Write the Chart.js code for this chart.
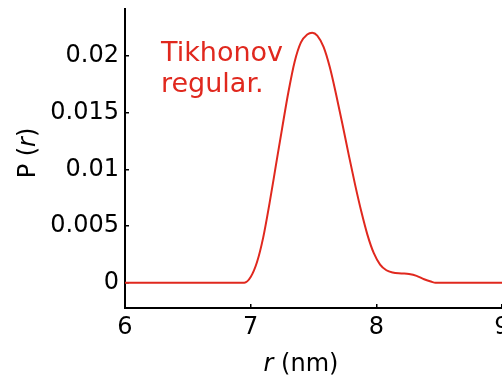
<!DOCTYPE html>
<html>
<head>
<meta charset="utf-8">
<script src="https://cdn.jsdelivr.net/npm/chart.js@4"></script>
<style>
	html, body { margin: 0; padding: 0; background: #fff; }
	#wrap { width: 502px; height: 382px; }
</style>
</head>
<body>
<div id="wrap"><canvas id="prChart" width="502" height="382"></canvas></div>
<script>
// distance distribution P(r), Tikhonov regularisation
const rValues = [6.0, 6.5, 6.95, 7.0, 7.05, 7.10, 7.15, 7.20, 7.25, 7.30, 7.35, 7.40, 7.45, 7.49, 7.53, 7.58, 7.63, 7.68, 7.73, 7.78, 7.83, 7.88, 7.93, 7.98, 8.03, 8.08, 8.13, 8.20, 8.26, 8.32, 8.38, 8.44, 8.47, 8.7, 9.0];
const pValues = [0, 0, 0, 0.0005, 0.0018, 0.0040, 0.0070, 0.0103, 0.0136, 0.0168, 0.0195, 0.0212, 0.0219, 0.02206, 0.0218, 0.0208, 0.0190, 0.0166, 0.0140, 0.0113, 0.0087, 0.0063, 0.0042, 0.0026, 0.0016, 0.0011, 0.0009, 0.00082, 0.00076, 0.0006, 0.0003, 0.00008, 0, 0, 0];

const xTicks = [6, 7, 8, 9];
const yTicks = [0, 0.005, 0.01, 0.015, 0.02];
const yTickLabels = ["0", "0.005", "0.01", "0.015", "0.02"];

const RED = "#e0281e";
const FONT = "DejaVu Sans";

// text with an italic r in it
function drawParts(ctx, parts, cx, cy) {
	let total = 0;
	parts.forEach(p => {
		ctx.font = (p.italic ? "italic " : "") + "24px '" + FONT + "'";
		p.w = ctx.measureText(p.text).width;
		total += p.w;
	});
	let x = cx - total / 2;
	parts.forEach(p => {
		ctx.font = (p.italic ? "italic " : "") + "24px '" + FONT + "'";
		ctx.fillText(p.text, x, cy);
		x += p.w;
	});
}

const textPlugin = {
	id: "textPlugin",
	afterDraw(chart) {
		const ctx = chart.ctx;
		ctx.save();
		ctx.fillStyle = RED;
		ctx.textAlign = "left";
		ctx.textBaseline = "alphabetic";
		ctx.font = "27px '" + FONT + "'";
		ctx.fillText("Tikhonov", 161, 61);
		ctx.fillText("regular.", 161, 92);

		ctx.fillStyle = "#000";
		drawParts(ctx, [{ text: "r", italic: true }, { text: " (nm)" }], 301, 371);

		ctx.translate(35, 153);
		ctx.rotate(-Math.PI / 2);
		drawParts(ctx, [{ text: "P (" }, { text: "r", italic: true }, { text: ")" }], 0, 0);
		ctx.restore();
	}
};

const ctx = document.getElementById("prChart").getContext("2d");
new Chart(ctx, {
	type: "line",
	data: {
		datasets: [{
			data: rValues.map((r, i) => ({ x: r, y: pValues[i] })),
			borderColor: RED,
			borderWidth: 2,
			pointRadius: 0,
			fill: false,
			cubicInterpolationMode: "monotone"
		}]
	},
	options: {
		responsive: false,
		animation: false,
		layout: { padding: { top: 9, left: 0, right: 0, bottom: 0 } },
		plugins: {
			legend: { display: false },
			tooltip: { enabled: false }
		},
		scales: {
			x: {
				type: "linear",
				min: 6,
				max: 9,
				afterBuildTicks(scale) {
					scale.ticks = xTicks.map(v => ({ value: v }));
				},
				afterFit(scale) {
					scale.height = 74;
					scale.paddingLeft = 0;
					scale.paddingRight = 0;
				},
				ticks: {
					color: "#000",
					font: { family: FONT, size: 24 },
					padding: 9,
					maxRotation: 0,
					autoSkip: false
				},
				grid: { drawOnChartArea: false, tickLength: -4, color: "#000", lineWidth: 1.5 },
				border: { color: "#000", width: 2 }
			},
			y: {
				min: -0.002232,
				max: 0.024146,
				afterBuildTicks(scale) {
					scale.ticks = yTicks.map(v => ({ value: v }));
				},
				afterFit(scale) {
					scale.width = 125;
					scale.paddingTop = 0;
					scale.paddingBottom = 0;
				},
				ticks: {
					color: "#000",
					font: { family: FONT, size: 24 },
					padding: 10,
					autoSkip: false,
					callback: (v, i) => yTickLabels[i]
				},
				grid: { drawOnChartArea: false, tickLength: -4, color: "#000", lineWidth: 1.5 },
				border: { color: "#000", width: 2 }
			}
		}
	},
	plugins: [textPlugin]
});
</script>
</body>
</html>
